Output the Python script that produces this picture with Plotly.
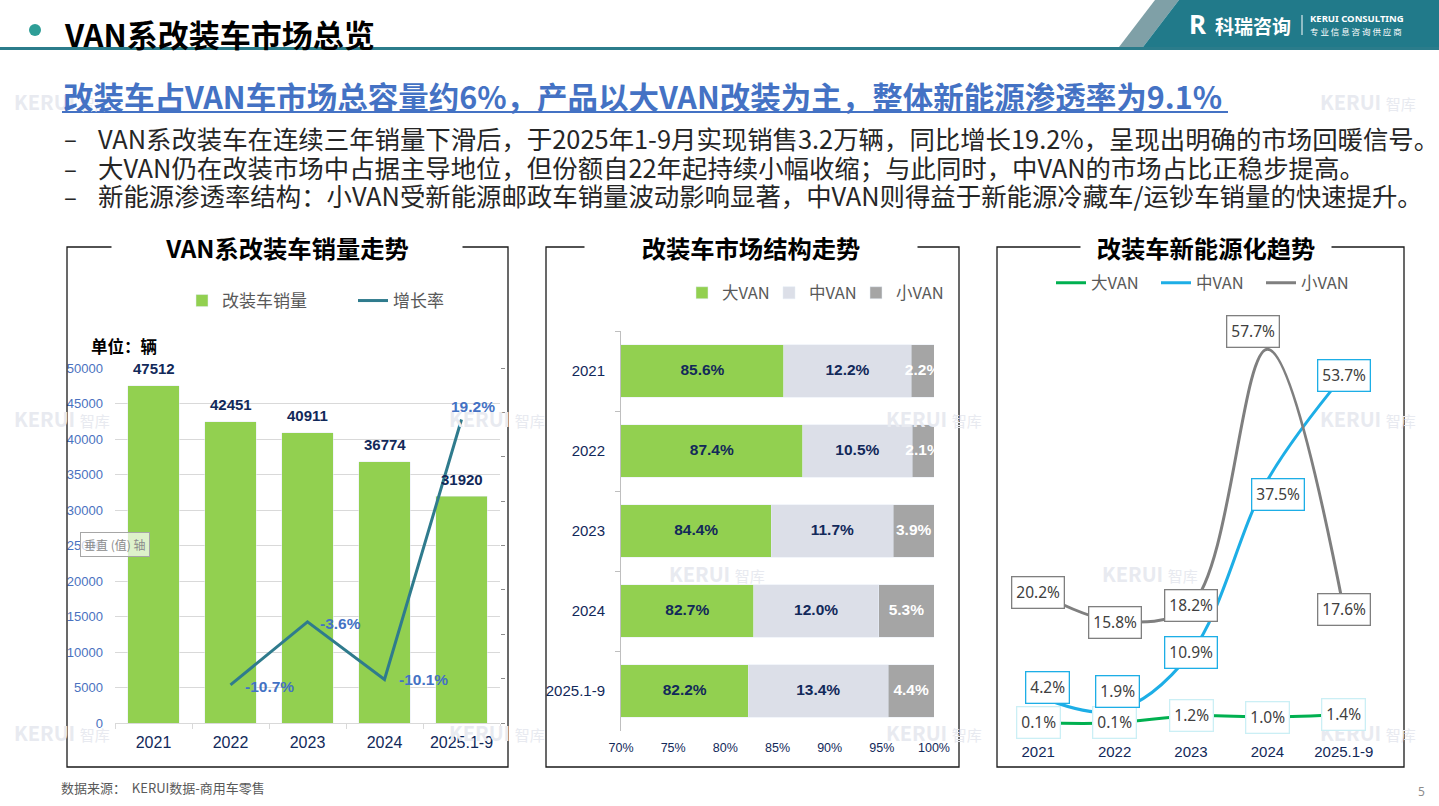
import plotly.graph_objects as go

W, H = 1439, 806


def fx(p):
    # pixel -> paper x
    return p / W


def fy(p):
    # pixel -> paper y (from top)
    return 1 - p / H


def note(x, y, text, font, xanchor='center', **kw):
    # text placed in pixel coordinates of the slide
    return dict(x=fx(x), y=fy(y), xref='paper', yref='paper', showarrow=False,
                xanchor=xanchor, yanchor='middle', text=text, font=font, **kw)


CJK = 'Noto Sans CJK SC'
NUM = 'Liberation Sans, Arial, sans-serif'
NAVY = '#12295A'
GREY_TXT = '#595959'

# ---- data ----
years = ['2021', '2022', '2023', '2024', '2025.1-9']

# 左：VAN系改装车销量走势
sales = [47512, 42451, 40911, 36774, 31920]
growth_years = ['2022', '2023', '2024', '2025.1-9']
growth = [-0.107, -0.036, -0.101, 0.192]

# 中：改装车市场结构走势
share_big = [0.856, 0.874, 0.844, 0.827, 0.822]
share_mid = [0.122, 0.105, 0.117, 0.120, 0.134]
share_small = [0.022, 0.021, 0.039, 0.053, 0.044]

# 右：改装车新能源化趋势 (%)
nev_big = [0.1, 0.1, 1.2, 1.0, 1.4]
nev_mid = [4.2, 1.9, 10.9, 37.5, 53.7]
nev_small = [20.2, 15.8, 18.2, 57.7, 17.6]

bullets = [
    'VAN系改装车在连续三年销量下滑后，于2025年1-9月实现销售3.2万辆，同比增长19.2%，呈现出明确的市场回暖信号。',
    '大VAN仍在改装市场中占据主导地位，但份额自22年起持续小幅收缩；与此同时，中VAN的市场占比正稳步提高。',
    '新能源渗透率结构：小VAN受新能源邮政车销量波动影响显著，中VAN则得益于新能源冷藏车/运钞车销量的快速提升。',
]

X3_MIN = 0.70

fig = go.Figure()

# ---- left chart ----
fig.add_trace(go.Bar(
    x=years, y=sales, name='改装车销量', marker_color='#92D050', width=0.67,
    xaxis='x', yaxis='y', legend='legend', hoverinfo='skip'))
fig.add_trace(go.Scatter(
    x=growth_years, y=growth, name='增长率', mode='lines',
    line=dict(color='#2F7B8D', width=3),
    xaxis='x', yaxis='y2', legend='legend', hoverinfo='skip'))

# ---- middle chart ----
for name, vals, color in [('大VAN', share_big, '#92D050'),
                          ('中VAN', share_mid, '#DCDFE8'),
                          ('小VAN', share_small, '#A5A5A5')]:
    fig.add_trace(go.Bar(
        y=years, x=vals, orientation='h', name=name, marker_color=color,
        width=0.66, xaxis='x3', yaxis='y3', legend='legend2', hoverinfo='skip'))

pos_big = [(X3_MIN + b) / 2 for b in share_big]
pos_mid = [b + m / 2 for b, m in zip(share_big, share_mid)]
pos_small = [b + m + s / 2 for b, m, s in zip(share_big, share_mid, share_small)]
for pos, vals, col in [(pos_big, share_big, NAVY), (pos_mid, share_mid, NAVY),
                       (pos_small, share_small, 'white')]:
    fig.add_trace(go.Scatter(
        x=pos, y=years, mode='text', text=[f'{v * 100:.1f}%' for v in vals],
        textposition='middle center', cliponaxis=True, showlegend=False,
        textfont=dict(family=NUM, size=15.5, color=col, weight='bold'),
        xaxis='x3', yaxis='y3', hoverinfo='skip'))

# ---- right chart ----
nev_series = [('大VAN', nev_big, '#00B050', '#CBEFF5'),
              ('中VAN', nev_mid, '#1DAEE6', '#1DAEE6'),
              ('小VAN', nev_small, '#7F7F7F', '#7F7F7F')]
for name, vals, color, _ in nev_series:
    fig.add_trace(go.Scatter(
        x=years, y=vals, mode='lines', name=name,
        line=dict(color=color, width=3, shape='spline', smoothing=1),
        xaxis='x4', yaxis='y4', legend='legend3', hoverinfo='skip'))

annotations = []

# watermarks
for wx, wy in [(62, 101), (1368, 101), (62, 418), (497, 418), (934, 418), (1368, 418),
               (717, 573), (1150, 573), (62, 732), (497, 732), (934, 732), (1368, 732)]:
    annotations.append(note(wx, wy, '<b>KERUI</b> <span style="font-size:15px">智库</span>',
                            dict(family=CJK, size=20, color='#E8EAF0')))

# bar value labels
for i, v in enumerate(sales):
    annotations.append(dict(
        x=i, y=v, xref='x', yref='y', showarrow=False, xanchor='center', yanchor='middle',
        yshift=17, text=str(v), font=dict(family=NUM, size=15, color=NAVY, weight='bold')))

# growth labels (category index on the x axis)
g_anchor = ['left', 'left', 'left', 'center']
g_xshift = [12, 10, 12, 11]
g_yshift = [-2, -2, 0, 13]
for yr, v, a, xs, ys in zip(growth_years, growth, g_anchor, g_xshift, g_yshift):
    annotations.append(dict(
        x=years.index(yr), y=v, xref='x', yref='y2', showarrow=False, xanchor=a,
        yanchor='middle', xshift=xs, yshift=ys, text=f'{v * 100:.1f}%',
        font=dict(family=NUM, size=15.5, color='#4472C4', weight='bold')))

# right chart data labels
label_shift = {
    '大VAN': ([0, 0, 0, 0, 0], [0, 0, 0, 0, 0]),
    '中VAN': ([9, 3, 0, 11, 0], [9, 20, 0, -14, 0]),
    '小VAN': ([0, 0, 0, -14, 0], [0, -1, 0, 18, 0]),
}
for name, vals, _, border in nev_series:
    xs_l, ys_l = label_shift[name]
    for i, (v, xs, ys) in enumerate(zip(vals, xs_l, ys_l)):
        annotations.append(dict(
            x=i, y=v, xref='x4', yref='y4', showarrow=False, xanchor='center',
            yanchor='middle', xshift=xs, yshift=ys, text=f'{v:.1f}%',
            font=dict(family='Noto Sans', size=15.5, color='#404040'),
            bgcolor='white', bordercolor=border, borderwidth=1.3, borderpad=4))

# header
annotations += [
    note(62, 33, '<b>VAN系改装车市场总览</b>', dict(family=CJK, size=31, color='black'), 'left'),
    note(1187, 24, '<b>R</b>', dict(family='Noto Sans', size=26, color='white'), 'left'),
    note(1213, 25, '<b>科瑞咨询</b>', dict(family=CJK, size=19, color='white'), 'left'),
    note(1308, 19, '<b>KERUI CONSULTING</b>', dict(family='Noto Sans', size=9.5, color='white'), 'left'),
    note(1308, 31, '专 业 信 息 咨 询 供 应 商', dict(family=CJK, size=8.5, color='white'), 'left'),
    note(61, 96, '<b>改装车占VAN车市场总容量约6%，产品以大VAN改装为主，整体新能源渗透率为9.1%</b>',
         dict(family=CJK, size=30.5, color='#4472C4'), 'left'),
]
for yb, b in zip([138, 167, 195], bullets):
    annotations.append(note(70, yb, '–', dict(family=CJK, size=24, color='#262626')))
    annotations.append(note(96, yb, b, dict(family=CJK, size=25.4, color='#262626'), 'left'))

# chart titles (white background hides the frame line)
for cx, title, tw in [(287, 'VAN系改装车销量走势', 350), (751, '改装车市场结构走势', 332),
                      (1206, '改装车新能源化趋势', 250)]:
    annotations.append(note(cx, 247, f'<b>{title}</b>', dict(family=CJK, size=24.3, color='black'),
                            width=tw, height=34, bgcolor='white', borderpad=0))

annotations += [
    note(89, 346, '<b>单位：辆</b>', dict(family=CJK, size=16.5, color='black'), 'left'),
    note(115, 544, '垂直 (值) 轴', dict(family=CJK, size=12, color='#8C8C8C'),
         bgcolor='rgba(255,255,255,0.7)', bordercolor='#A6A6A6', borderwidth=1, borderpad=3),
    note(59, 787, '数据来源：  KERUI数据-商用车零售', dict(family=CJK, size=13, color=GREY_TXT), 'left'),
    note(1421, 791, '5', dict(family='Noto Sans', size=12, color='#8C8C8C')),
]

shapes = [
    # header
    dict(type='line', xref='paper', yref='paper', x0=0, x1=1, y0=fy(48.5), y1=fy(48.5),
         line=dict(color='#2B7C8B', width=3)),
    dict(type='circle', xref='paper', yref='paper', x0=fx(29), x1=fx(41), y0=fy(36), y1=fy(24),
         fillcolor='#2E9E97', line=dict(width=0)),
    dict(type='path', xref='paper', yref='paper', fillcolor='#7FA0A7', line=dict(width=0),
         path=f'M{fx(1155)},{fy(0)} L{fx(1179)},{fy(0)} L{fx(1143)},{fy(47)} L{fx(1119)},{fy(47)} Z'),
    dict(type='path', xref='paper', yref='paper', fillcolor='#217A8A', line=dict(width=0),
         path=f'M{fx(1179)},{fy(0)} L{fx(1439)},{fy(0)} L{fx(1439)},{fy(47)} L{fx(1143)},{fy(47)} Z'),
    dict(type='line', xref='paper', yref='paper', x0=fx(1302), x1=fx(1302), y0=fy(15), y1=fy(35),
         line=dict(color='white', width=1)),
    # subtitle underline
    dict(type='line', xref='paper', yref='paper', x0=fx(62), x1=fx(1228), y0=fy(112), y1=fy(112),
         line=dict(color='#4472C4', width=2)),
]
for x0, x1 in [(67, 508), (546, 959), (997, 1404)]:
    shapes.append(dict(type='rect', xref='paper', yref='paper', x0=fx(x0), x1=fx(x1),
                       y0=fy(767), y1=fy(247), line=dict(color='#1A1A1A', width=1.3)))

legend_common = dict(orientation='h', xanchor='left', yanchor='middle', traceorder='normal',
                     bgcolor='rgba(0,0,0,0)', borderwidth=0, entrywidthmode='pixels')

fig.update_layout(
    width=W, height=H, autosize=False,
    margin=dict(l=0, r=0, t=0, b=0, pad=0),
    paper_bgcolor='white', plot_bgcolor='rgba(0,0,0,0)',
    barmode='stack',
    showlegend=True,
    legend=dict(x=fx(182), y=fy(301), entrywidth=126,
                font=dict(family=CJK, size=17, color=GREY_TXT), **legend_common),
    legend2=dict(x=fx(682), y=fy(293), entrywidth=42,
                 font=dict(family=CJK, size=16.5, color=GREY_TXT), **legend_common),
    legend3=dict(x=fx(1051), y=fy(283), entrywidth=60,
                 font=dict(family=CJK, size=16.5, color=GREY_TXT), **legend_common),
    xaxis=dict(domain=[fx(115), fx(500)], type='category', range=[-0.5, 4.5], anchor='y',
               automargin=False, showgrid=False, showline=True, linecolor='#D9D9D9', linewidth=1,
               ticks='outside', tickson='boundaries', ticklen=5, tickcolor='#D9D9D9',
               tickangle=0, ticklabelstandoff=5, tickfont=dict(family=NUM, size=16, color=NAVY)),
    yaxis=dict(domain=[fy(723), fy(368)], range=[0, 50000], dtick=5000, tickformat='d',
               anchor='x', automargin=False, showgrid=True, gridcolor='#D9D9D9',
               zeroline=False, showline=False, ticklabelstandoff=11,
               tickfont=dict(family=NUM, size=13, color='#4A72C0')),
    yaxis2=dict(overlaying='y', side='right', anchor='x', range=[-0.15, 0.25], dtick=0.05,
                automargin=False, showgrid=False, zeroline=False, showticklabels=False,
                ticks='outside', ticklen=4, tickcolor='#8C8C8C'),
    xaxis3=dict(domain=[fx(621), fx(934)], range=[X3_MIN, 1.0], dtick=0.05, tickformat='.0%',
                anchor='y3', automargin=False, showgrid=False, zeroline=False, showline=False,
                ticklabelstandoff=7, tickfont=dict(family=NUM, size=12.5, color=NAVY)),
    yaxis3=dict(domain=[fy(731), fy(331)], type='category', autorange='reversed', anchor='x3',
                automargin=False, showline=True, linecolor='#BFBFBF', ticks='outside',
                tickson='boundaries', ticklen=5, tickcolor='#BFBFBF', ticklabelstandoff=12,
                tickfont=dict(family=NUM, size=15, color=NAVY)),
    xaxis4=dict(domain=[fx(1000), fx(1382)], type='category', range=[-0.5, 4.5], anchor='y4',
                automargin=False, showgrid=False, showline=False, zeroline=False, ticks='',
                tickangle=0, ticklabelstandoff=6, tickfont=dict(family=NUM, size=15, color=NAVY)),
    yaxis4=dict(domain=[fy(735), fy(320)], range=[-1.77, 62.2], anchor='x4', visible=False,
                automargin=False),
    annotations=annotations,
    shapes=shapes,
)

# the page's default body margin would shift the 1439x806 slide by 8px
fig.write_html('out.html', config={'displayModeBar': False},
               post_script="document.body.style.margin='0px';")
